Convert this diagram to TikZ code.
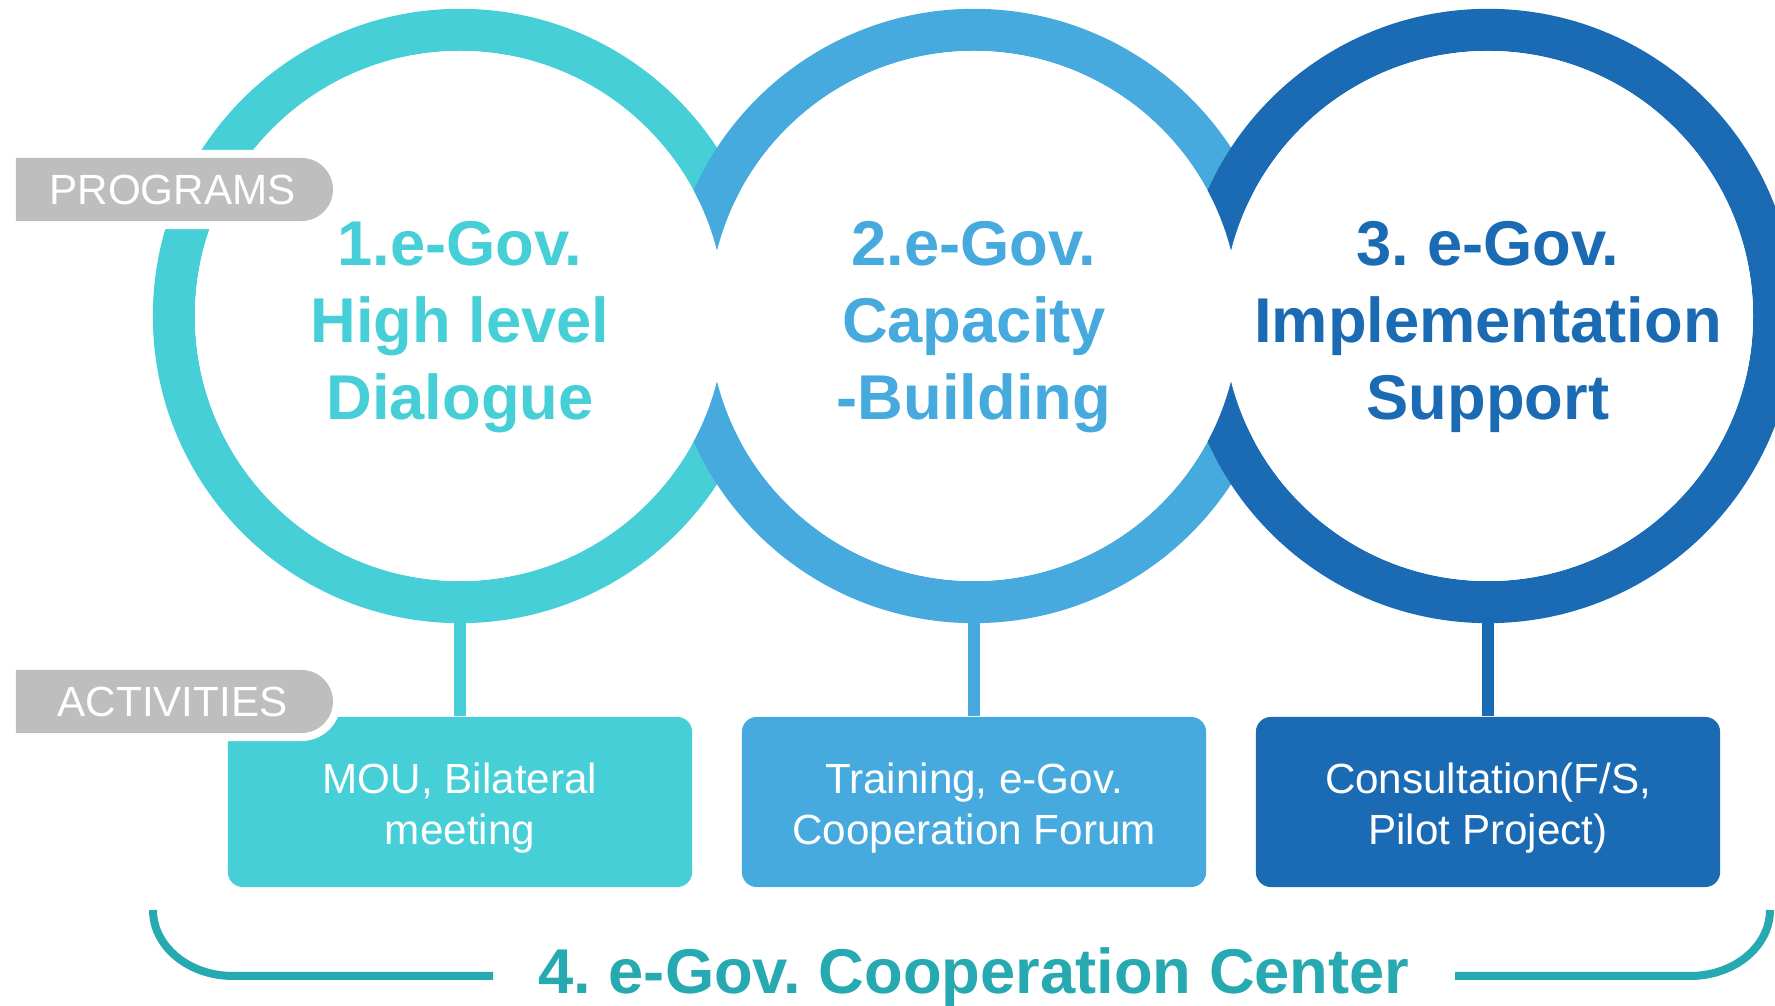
\documentclass[tikz,border=0pt]{standalone}
\usepackage{fontspec}
\setmainfont{Liberation Sans}
\usepackage{tikz}
\usetikzlibrary{shapes.misc}
\definecolor{CircTeal}{HTML}{46CFD7}
\definecolor{CircSky}{HTML}{47AADF}
\definecolor{CircNavy}{HTML}{1B6BB4}
\definecolor{TagGray}{HTML}{BEBEBE}
\definecolor{CenterTeal}{HTML}{27A9B1}
\frenchspacing

\begin{document}
\begin{tikzpicture}[x=0.01cm,y=0.01cm,
  ring/.style={circle, minimum size=5.72cm, line width=0.42cm, draw=#1},
  title/.style={align=center, text=#1, font=\bfseries\fontsize{18}{21.8}\selectfont},
  actbox/.style={rounded corners=0.15cm, fill=#1, minimum width=4.64cm, minimum height=1.7cm},
  acttext/.style={align=center, text=white, font=\fontsize{12}{14.3}\selectfont},
  stem/.style={line width=0.12cm, draw=#1},
  tag/.style={rounded rectangle, rounded rectangle west arc=none, fill=TagGray, text=white, minimum width=3.17cm, minimum height=0.63cm, inner sep=0pt, font=\fontsize{12}{14}\selectfont, preaction={draw=white, line width=0.16cm}},
  brace/.style={line width=0.08cm, draw=CenterTeal}]
\useasboundingbox (0,0) rectangle (1775,1006);
\clip (0,0) rectangle (1775,1006);
%RINGS
\node[ring=CircTeal] (p1) at (460,690) {};
\node[ring=CircSky] (p2) at (974,690) {};
\node[ring=CircNavy] (p3) at (1488,690) {};
\foreach \n in {p1,p2,p3} \fill[white] (\n.center) circle[radius=265];
%TITLES
\node[title=CircTeal] (t1) at (460,679) {1.e-Gov.\\High level\\Dialogue};
\node[title=CircSky] (t2) at (974,679) {2.e-Gov.\\Capacity\\-Building};
\node[title=CircNavy] (t3) at (1488,679) {3. e-Gov.\\Implementation\\Support};
%BOXES
\node[actbox=CircTeal] (b1) at (460,204) {};
\node[actbox=CircSky] (b2) at (974,204) {};
\node[actbox=CircNavy] (b3) at (1488,204) {};
\node[acttext] (b1t) at ([yshift=-0.06cm]b1.center) {MOU, Bilateral\\meeting};
\node[acttext] (b2t) at ([yshift=-0.06cm]b2.center) {Training, e-Gov.\\Cooperation Forum};
\node[acttext] (b3t) at ([yshift=-0.06cm]b3.center) {Consultation(F/S,\\Pilot Project)};
\draw[stem=CircTeal] (p1.south) -- (b1.north);
\draw[stem=CircSky] (p2.south) -- (b2.north);
\draw[stem=CircNavy] (p3.south) -- (b3.north);
%TAGS
\node[tag] (prog) at (172.5,816.5) {PROGRAMS};
\node[tag] (act) at (172.5,304.5) {ACTIVITIES};
%CENTER
\node[anchor=base, text=CenterTeal, font=\bfseries\fontsize{18}{21.6}\selectfont] (ctr) at (974,12) {4. e-Gov. Cooperation Center};
\coordinate (lend) at (493,30);
\coordinate (rend) at (1455,30);
\draw[brace] (153,96) arc[start angle=180,end angle=270,x radius=80,y radius=66] -- (lend);
\draw[brace] (rend) -- (1690,30) arc[start angle=270,end angle=360,x radius=80,y radius=66];
\end{tikzpicture}
\end{document}
